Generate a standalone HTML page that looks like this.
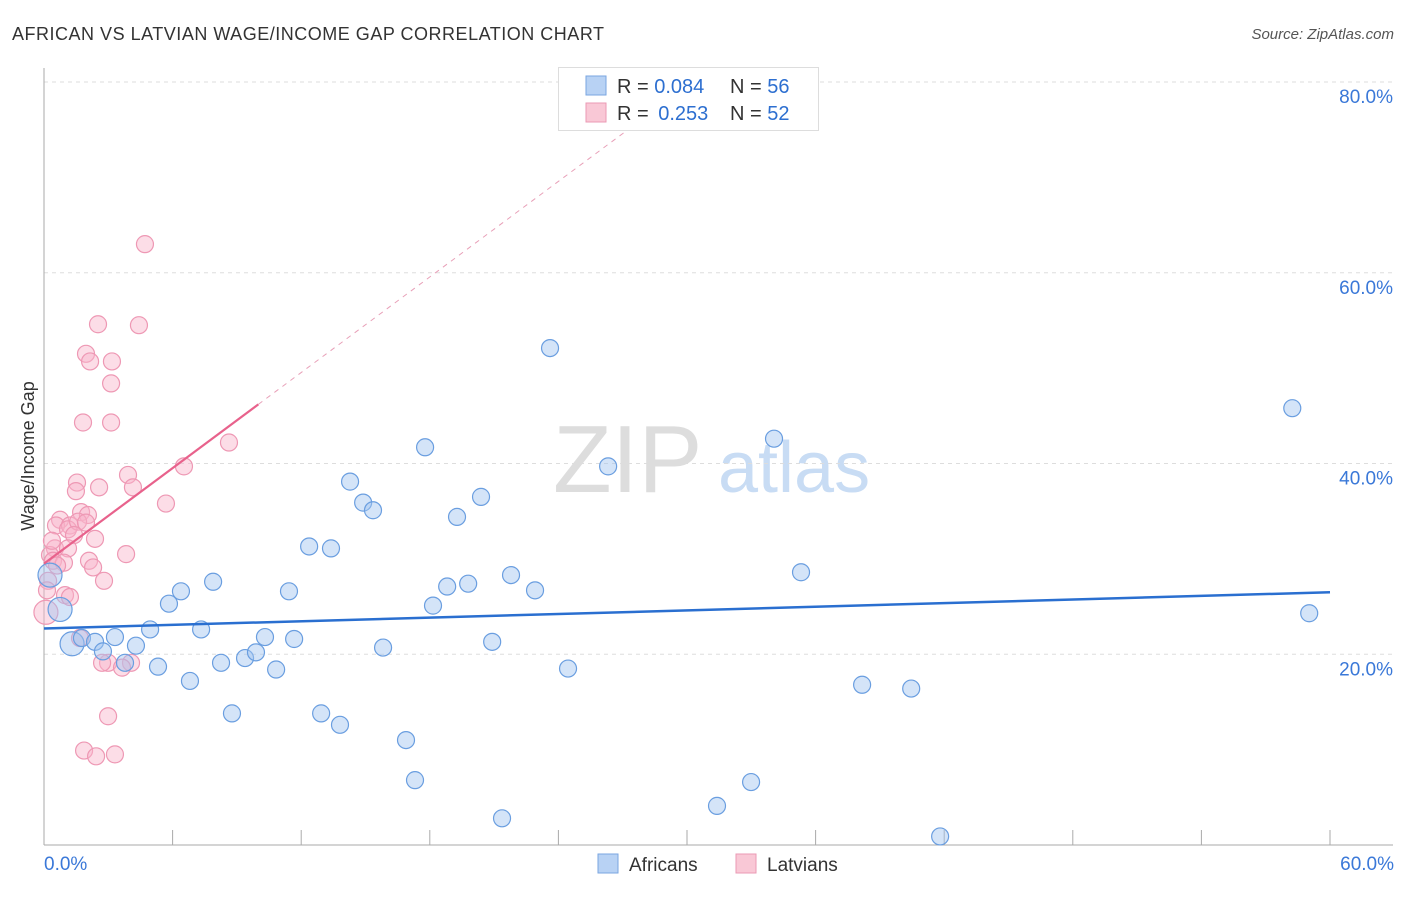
<!DOCTYPE html>
<html><head><meta charset="utf-8">
<style>
body{margin:0;background:#fff;font-family:"Liberation Sans",sans-serif;}
svg text{font-family:"Liberation Sans",sans-serif;}
</style></head>
<body>
<svg id="chart" width="1406" height="892" xmlns="http://www.w3.org/2000/svg">
<text x="12" y="40" font-size="18" fill="#333" textLength="592" lengthAdjust="spacing">AFRICAN VS LATVIAN WAGE/INCOME GAP CORRELATION CHART</text>
<text x="1394" y="39" font-size="15" fill="#555" font-style="italic" text-anchor="end">Source: ZipAtlas.com</text>
<g>
<text x="553" y="492" font-size="96" fill="#ddd" font-family="Liberation Serif">ZIP</text>
<text x="718" y="492" font-size="72" fill="#c8dcf4">atlas</text>
</g>
<g id="grid"></g>
<g id="axes"></g>
<g id="marks"></g>
<text transform="translate(34,456) rotate(-90)" font-size="18" fill="#333" text-anchor="middle">Wage/Income Gap</text>
<g>
<rect x="558.5" y="67.5" width="260" height="63" fill="#fff" stroke="#ddd"/>
<rect x="586" y="76" width="20" height="19" fill="#b8d2f4" stroke="#7aa6e0"/>
<rect x="586" y="103" width="20" height="19" fill="#f9c8d6" stroke="#eb9ab4"/>
<text x="617" y="93" font-size="20" fill="#333">R = <tspan fill="#2d6fd0">0.084</tspan></text>
<text x="730" y="93" font-size="20" fill="#333">N = <tspan fill="#2d6fd0">56</tspan></text>
<text x="617" y="120" font-size="20" fill="#333">R = <tspan fill="#2d6fd0" dx="4">0.253</tspan></text>
<text x="730" y="120" font-size="20" fill="#333">N = <tspan fill="#2d6fd0">52</tspan></text>
</g>
<g>
<rect x="598" y="854" width="20" height="19" fill="#b8d2f4" stroke="#7aa6e0"/>
<text x="629" y="871" font-size="19" fill="#333">Africans</text>
<rect x="736" y="854" width="20" height="19" fill="#f9c8d6" stroke="#eb9ab4"/>
<text x="767" y="871" font-size="19" fill="#333">Latvians</text>
</g>
</svg>
<script>
const yTicks=[20,40,60,80];
const yTickLabels=["20.0%","40.0%","60.0%","80.0%"];
const xTickLabels=["0.0%","60.0%"];
const africanX=[1.31,0.75,0.28,1.77,2.38,2.75,3.31,3.78,4.29,4.95,5.32,5.83,6.39,6.81,7.33,7.89,8.26,8.77,9.38,9.89,10.31,10.83,11.43,11.67,12.37,12.93,13.39,13.81,14.28,14.89,15.35,15.82,16.89,17.31,17.78,18.15,18.81,19.27,19.79,20.39,20.91,21.37,21.79,22.91,23.61,24.45,26.32,31.4,32.99,34.06,35.32,38.17,40.46,41.81,58.24,59.03];
const africanY=[21.1,24.7,28.3,21.7,21.3,20.3,21.8,19.1,20.9,22.6,18.7,25.3,26.6,17.2,22.6,27.6,19.1,13.8,19.6,20.2,21.8,18.4,26.6,21.6,31.3,13.8,31.1,12.6,38.1,35.9,35.1,20.7,11.0,6.8,41.7,25.1,27.1,34.4,27.4,36.5,21.3,2.8,28.3,26.7,52.1,18.5,39.7,4.1,6.6,42.6,28.6,16.8,16.4,0.9,45.8,24.3];
const latvianX=[4.71,2.52,4.43,1.96,2.15,3.17,3.13,1.82,3.13,8.63,6.53,3.92,1.54,2.57,1.49,4.15,5.69,1.73,2.05,0.75,0.56,1.21,1.12,1.59,1.96,1.40,2.38,3.83,0.51,0.28,0.42,1.12,0.93,2.10,2.29,2.80,0.98,1.21,0.19,2.99,2.71,4.06,3.64,2.99,1.87,2.43,3.31,0.09,0.37,0.61,1.68,0.14];
const latvianY=[63.0,54.6,54.5,51.5,50.7,50.7,48.4,44.3,44.3,42.2,39.7,38.8,38.0,37.5,37.1,37.5,35.8,34.9,34.6,34.1,33.5,33.5,33.1,33.9,33.8,32.5,32.1,30.5,31.1,30.4,29.8,31.1,29.6,29.8,29.1,27.7,26.2,26.0,27.7,19.1,19.1,19.1,18.6,13.5,9.9,9.3,9.5,24.4,31.9,29.3,21.7,26.7];
const africanTrend=[22.7,26.5];
const latvianTrend=[29.5,1.67];
const X0=44,X1=1330,Y0=845,PXPER=763/80;
function sx(v){return X0+(v/60)*(X1-X0);}
function sy(v){return Y0-v*PXPER;}
const NS="http://www.w3.org/2000/svg";
function mk(tag,attrs,parent){const e=document.createElementNS(NS,tag);for(const k in attrs)e.setAttribute(k,attrs[k]);parent.appendChild(e);return e;}
const grid=document.getElementById('grid'),axes=document.getElementById('axes'),marks=document.getElementById('marks');
yTicks.forEach((t,i)=>{
 const l=mk('line',{x1:X0,x2:1393,y1:sy(t),y2:sy(t),stroke:'#ddd','stroke-dasharray':'4,4'},grid);
 
 
 const tx=mk('text',{x:1393,y:sy(t)+21,'font-size':19,fill:'#3a78d8','text-anchor':'end'},axes);
 tx.textContent=yTickLabels[i];
 
 
});
const ya=mk('line',{x1:X0,x2:X0,y1:68,y2:Y0,stroke:'#aaa'},axes);


const xa=mk('line',{x1:X0,x2:1393,y1:Y0,y2:Y0,stroke:'#aaa'},axes);


for(let v=0;v<=60;v+=6){
 const t=mk('line',{x1:sx(v),x2:sx(v),y1:Y0-15,y2:Y0,stroke:'#aaa'},axes);
 
 
}
[[0,'start',44],[60,'end',1394]].forEach((d,i)=>{
 const t=mk('text',{x:d[2],y:870,'font-size':19,fill:'#3a78d8','text-anchor':d[1]},axes);
 t.textContent=xTickLabels[i];
 
 
});
function dots(xs,ys,fill,stroke,name,big){
 xs.forEach((x,i)=>{
  const r=big.includes(i)?12:8.5;
  const c=mk('circle',{cx:sx(x),cy:sy(ys[i]),r:r,fill:fill,stroke:stroke,'stroke-width':1.2},marks);
  
  
 });
}
dots(latvianX,latvianY,'rgba(248,180,202,0.45)','#ee98b4','latvian-point',[47]);
dots(africanX,africanY,'rgba(160,196,240,0.45)','#6a9ee0','african-point',[0,1,2]);
const bt=mk('line',{x1:sx(0),y1:sy(africanTrend[0]),x2:sx(60),y2:sy(africanTrend[1]),stroke:'#2a6fd0','stroke-width':2.5},marks);


const pt=mk('line',{x1:sx(0),y1:sy(latvianTrend[0]),x2:sx(10),y2:sy(latvianTrend[0]+10*latvianTrend[1]),stroke:'#e8628c','stroke-width':2.2},marks);


const pd=mk('line',{x1:sx(10),y1:sy(latvianTrend[0]+10*latvianTrend[1]),x2:sx(28),y2:sy(latvianTrend[0]+28*latvianTrend[1]),stroke:'#e8a0b8','stroke-width':1,'stroke-dasharray':'5,5'},marks);


</script>
</body></html>
